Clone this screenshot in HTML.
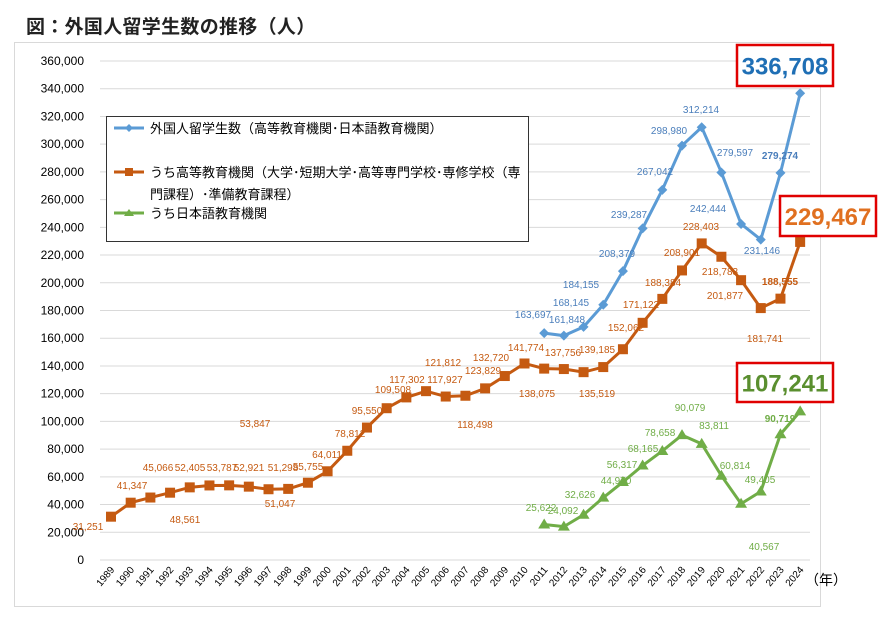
<!DOCTYPE html>
<html><head><meta charset="utf-8"><style>
body{margin:0;background:#fff;}
svg{display:block;font-family:"Liberation Sans","Noto Sans CJK JP",sans-serif;}
</style></head><body>
<svg id="s" width="887" height="625" xmlns="http://www.w3.org/2000/svg">
<text x="26" y="33" font-size="19" font-weight="bold" letter-spacing="0.3" fill="#222">図：外国人留学生数の推移（人）</text>
<rect x="14.5" y="42.5" width="806" height="564" fill="#fff" stroke="#d9d9d9"/>
<g id="g"></g>
</svg>
<script>
const g=document.getElementById('g');let h='';
const Y=v=>560-v/360000*499, X=yr=>111+(yr-1989)*19.69;
for(let v=0;v<=360000;v+=20000){const y=Y(v);h+=`<line x1="100" x2="810" y1="${y}" y2="${y}" stroke="#d9d9d9" stroke-width="1"/>`;
h+=`<text x="84" y="${y+4}" font-size="12" text-anchor="end" fill="#000">${v.toLocaleString('en-US')}</text>`;}
for(let yr=1989;yr<=2024;yr++){const x=X(yr)+4;h+=`<text x="${x}" y="570" font-size="10" text-anchor="end" transform="rotate(-50 ${x} 570)">${yr}</text>`;}
h+=`<text x="805" y="585" font-size="14">（年）</text>`;
const tot=[163697,161848,168145,184155,208379,239287,267042,298980,312214,279597,242444,231146,279274,336708];
const hi=[31251,41347,45066,48561,52405,53787,53847,52921,51047,51298,55755,64011,78812,95550,109508,117302,121812,117927,118498,123829,132720,141774,138075,137756,135519,139185,152062,171122,188384,208901,228403,218783,201877,181741,188555,229467];
const jp=[25622,24092,32626,44970,56317,68165,78658,90079,83811,60814,40567,49405,90719,107241];
function line(d,start,c){return `<polyline fill="none" stroke="${c}" stroke-width="3" points="${d.map((v,i)=>X(start+i)+','+Y(v)).join(' ')}"/>`;}
h+=line(hi,1989,'#c55a11');h+=line(tot,2011,'#5b9bd5');h+=line(jp,2011,'#70ad47');
hi.forEach((v,i)=>{h+=`<rect x="${X(1989+i)-5}" y="${Y(v)-5}" width="10" height="10" fill="#c55a11"/>`;});
tot.forEach((v,i)=>{const x=X(2011+i),y=Y(v);h+=`<polygon points="${x},${y-5} ${x+5},${y} ${x},${y+5} ${x-5},${y}" fill="#5b9bd5"/>`;});
jp.forEach((v,i)=>{const x=X(2011+i),y=Y(v);h+=`<polygon points="${x},${y-6} ${x+6},${y+4} ${x-6},${y+4}" fill="#70ad47"/>`;});
const L=(t,x,y,c,b)=>{h+=`<text x="${x}" y="${y+4}" font-size="10" text-anchor="middle" fill="${c}"${b?' font-weight="bold"':''}>${t}</text>`;};
const O='#c55a11',B='#4a7ebb',G='#70ad47';
[['31,251',88,526],['41,347',132,485],['45,066',158,467],['52,405',190,467],['53,787',222,467],['48,561',185,519],['53,847',255,423],['52,921',249,467],['51,298',283,467],['51,047',280,503],['55,755',308,466],['64,011',327,454],['78,812',350,433],['95,550',367,410],['109,508',393,389],['117,302',407,379],['121,812',443,362],['117,927',445,379],['118,498',475,424],['123,829',483,370],['132,720',491,357],['141,774',526,347],['138,075',537,393],['137,756',563,352],['135,519',597,393],['139,185',597,349],['152,062',626,327],['171,122',641,304],['188,384',663,282],['208,901',682,252],['228,403',701,226],['218,783',720,271],['201,877',725,295],['181,741',765,338]].forEach(a=>L(a[0],a[1],a[2],O));
L('188,555',780,281,O,1);
[['163,697',533,314],['161,848',567,319],['168,145',571,302],['184,155',581,284],['208,379',617,253],['239,287',629,214],['267,042',655,171],['298,980',669,130],['312,214',701,109],['279,597',735,152],['242,444',708,208],['231,146',762,250]].forEach(a=>L(a[0],a[1],a[2],B));
L('279,274',780,155,B,1);
[['25,622',541,507],['24,092',563,510],['32,626',580,494],['44,970',616,480],['56,317',622,464],['68,165',643,448],['78,658',660,432],['90,079',690,407],['83,811',714,425],['60,814',735,465],['40,567',764,546],['49,405',760,479]].forEach(a=>L(a[0],a[1],a[2],G));
L('90,719',780,418,G,1);
const box=(x,y,w,hh,t,c)=>{h+=`<rect x="${x}" y="${y}" width="${w}" height="${hh}" fill="#fff" stroke="#e00000" stroke-width="2.5"/><text x="${x+w/2}" y="${y+hh/2+9}" font-size="24" font-weight="bold" text-anchor="middle" fill="${c}">${t}</text>`;};
box(737,45,96,41,'336,708','#1f6fb5');box(780,196,96,40,'229,467','#e07020');box(737,363,96,39,'107,241','#5a8f2f');
h+=`<rect x="106.5" y="116.5" width="422" height="125" fill="#fff" stroke="#333" stroke-width="1"/>`;
const leg=(y,c,m)=>{h+=`<line x1="114" x2="144" y1="${y}" y2="${y}" stroke="${c}" stroke-width="3"/>`+m;};
leg(128,'#5b9bd5',`<polygon points="129,124 133,128 129,132 125,128" fill="#5b9bd5"/>`);
leg(172,'#c55a11',`<rect x="125" y="168" width="8" height="8" fill="#c55a11"/>`);
leg(213,'#70ad47',`<polygon points="129,209 134,216 124,216" fill="#70ad47"/>`);
h+=`<text x="150" y="133" font-size="13">外国人留学生数（高等教育機関･日本語教育機関）</text>`;
h+=`<text x="150" y="177" font-size="13">うち高等教育機関（大学･短期大学･高等専門学校･専修学校（専</text>`;
h+=`<text x="150" y="199" font-size="13">門課程）･準備教育課程）</text>`;
h+=`<text x="150" y="218" font-size="13">うち日本語教育機関</text>`;
g.innerHTML=h;
</script>
</body></html>
